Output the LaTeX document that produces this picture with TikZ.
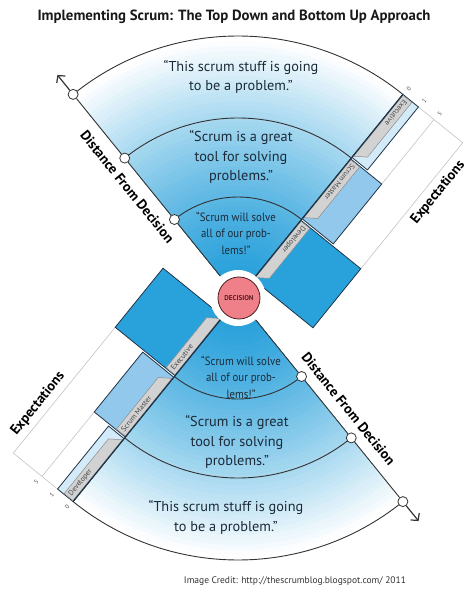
\documentclass[tikz,border=0pt]{standalone}
\usepackage{fontspec}
\setmainfont{PT Sans}
\newfontfamily\condfont{PT Sans}[FakeStretch=0.9]
\usetikzlibrary{arrows.meta}
\definecolor{quote}{HTML}{1C2A38}
\definecolor{gradblue}{HTML}{2AA1DB}
\definecolor{darkrect}{HTML}{29A2DC}
\definecolor{medrect}{HTML}{92C8EC}
\definecolor{lightrect}{HTML}{D3EBF9}
\definecolor{rectline}{HTML}{1F3446}
\definecolor{tabfill}{HTML}{D2D2D2}
\definecolor{tabline}{HTML}{8C8C8C}
\definecolor{tabtext}{HTML}{474747}
\definecolor{guide}{HTML}{C4C4C4}
\definecolor{decfill}{HTML}{EF7F88}
\definecolor{decline}{HTML}{4A2222}
\definecolor{dectext}{HTML}{5C1E22}
\definecolor{arcline}{HTML}{333333}
\tikzset{
  quotetext/.style={align=center, text=quote, font=\fontsize{14.3}{19.5}\selectfont, inner sep=0},
  innerquote/.style={align=center, text=quote, font=\condfont\fontsize{12}{16.5}\selectfont, inner sep=0},
  rolerect/.style={draw=rectline, line width=0.8pt},
  roletab/.style={fill=tabfill, draw=tabline, line width=0.5pt},
  roletext/.style={text=tabtext, font=\fontsize{7.5}{8}\selectfont, inner sep=0},
  arcstyle/.style={draw=arcline, line width=0.9pt},
  arcdot/.style={circle, fill=white, draw=arcline, line width=0.8pt, minimum size=10pt, inner sep=0},
  axislabel/.style={font=\bfseries\fontsize{14}{16}\selectfont, text=black, inner sep=0},
  scalelabel/.style={font=\fontsize{6}{7}\selectfont, text=tabtext, inner sep=0},
  guideline/.style={draw=guide, line width=0.6pt},
}
% #1 rotation, #2 name prefix, #3 inner role, #4 outer role, #5 local rot of scale texts, #6 local rot of distance text
\newcommand\halfpart[6]{%
  \foreach \i in {0,...,46}{%
    \pgfmathsetmacro\rr{262-\i*5}%
    \pgfmathtruncatemacro\pp{100*(1-((\rr-28)/234)^1.3)}%
    \fill[gradblue!\pp!white] (0,0) -- ({51+#1}:\rr) arc[start angle={51+#1}, end angle={129+#1}, radius=\rr] -- cycle;
  }
  \foreach \rad in {101,180,262}{%
    \draw[arcstyle] ({51+#1}:\rad) arc[start angle={51+#1}, end angle={129+#1}, radius=\rad];
  }
  \begin{scope}[rotate={51+#1}]
    \draw[guideline] (179,-40) -- (262,-40);
    \draw[guideline] (100,-77) -- (262,-77);
    \draw[guideline] (262,0) -- (262,-77);
    \draw[rolerect, fill=darkrect] (24,0) rectangle (100,-77);
    \draw[rolerect, fill=medrect] (102,0) rectangle (179,-40);
    \draw[rolerect, fill=lightrect] (181,0) rectangle (262,-20);
    \draw[roletab] (27,-0.7) -- (99.3,-0.7) -- (99.3,-12) -- (35,-12) -- cycle;
    \draw[roletab] (104,-0.7) -- (178.3,-0.7) -- (178.3,-12) -- (112,-12) -- cycle;
    \draw[roletab] (183,-0.7) -- (261.3,-0.7) -- (261.3,-12) -- (191,-12) -- cycle;
    \draw[rectline, line width=1.2pt] (24,0) -- (262,0);
    \node[roletext, anchor=west, rotate=180, transform shape] (#2r1) at (97,-6.3) {#3};
    \node[roletext, anchor=west, rotate=180, transform shape] (#2r2) at (176,-6.3) {Scrum Master};
    \node[roletext, anchor=west, rotate=180, transform shape] (#2r3) at (259,-6.3) {#4};
    \node[scalelabel, rotate=#5, transform shape] (#2s0) at (270,-1) {0};
    \node[scalelabel, rotate=#5, transform shape] (#2s1) at (270,-21) {1};
    \node[scalelabel, rotate=#5, transform shape] (#2s5) at (270,-41) {5};
    \node[axislabel, rotate=#5, transform shape] (#2exp) at (208,-89) {Expectations};
  \end{scope}
  \begin{scope}[rotate={129+#1}]
    \coordinate (#2start) at (28,0);
    \coordinate (#2tip) at (287,0);
    \node[arcdot] (#2m1) at (101,0) {};
    \node[arcdot] (#2m2) at (180,0) {};
    \node[arcdot] (#2m3) at (262,0) {};
    \draw[arcstyle] (#2start) -- (#2m1);
    \draw[arcstyle] (#2m1) -- (#2m2);
    \draw[arcstyle] (#2m2) -- (#2m3);
    \draw[arcline, line width=1.2pt, -{Straight Barb[length=5pt,width=11pt]}] (#2m3) -- (#2tip);
    \node[axislabel, rotate=#6, transform shape] (#2dist) at (156,16) {Distance From Decision};
  \end{scope}
}
\begin{document}
\begin{tikzpicture}[x=1pt,y=1pt]
\useasboundingbox (-238,-296) rectangle (236,298);
\fill[white] (-238,-296) rectangle (236,298);
\halfpart{0}{t}{Developer}{Executive}{0}{180}
\halfpart{180}{b}{Executive}{Developer}{180}{0}
\node[circle, fill=white, minimum size=56pt, inner sep=0] (ring) at (0,0) {};
\node[circle, fill=decfill, draw=decline, line width=0.8pt, minimum size=42pt, inner sep=0,
      text=dectext, font=\bfseries\fontsize{7}{8}\selectfont] (decision) at (1,0) {DECISION};
\node[quotetext] (q1) at (3,221) {“This scrum stuff is going\\to be a problem.”};
\node[quotetext] (q2) at (3,141) {“Scrum is a great\\tool for solving\\problems.”};
\node[innerquote] (q3) at (-2,65) {“Scrum will solve\\all of our prob-\\lems!”};
\node[innerquote] (q4) at (3,-79) {“Scrum will solve\\all of our prob-\\lems!”};
\node[quotetext] (q5) at (-1,-144) {“Scrum is a great\\tool for solving\\problems.”};
\node[quotetext] (q6) at (-12,-219.5) {“This scrum stuff is going\\to be a problem.”};
\node[font=\bfseries\fontsize{14.8}{16}\selectfont, text=black!90, inner sep=0] (title) at (-4,281) {Implementing Scrum: The Top Down and Bottom Up Approach};
\node[font=\fontsize{9.5}{11}\selectfont, text=black!80, inner sep=0] (credit) at (57,-283) {Image Credit: http://thescrumblog.blogspot.com/ 2011};
\end{tikzpicture}
\end{document}
